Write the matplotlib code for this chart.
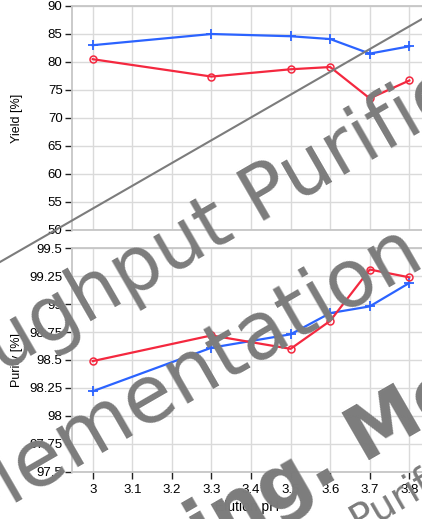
import numpy as np
import matplotlib
matplotlib.use("Agg")
import matplotlib.pyplot as plt
from matplotlib.font_manager import FontProperties
from matplotlib.lines import Line2D

# ---------------- data ----------------
ph = [3.0, 3.3, 3.5, 3.6, 3.7, 3.8]
yield_blue = [83.0, 85.0, 84.6, 84.1, 81.5, 82.8]
yield_red = [80.5, 77.4, 78.7, 79.1, 73.5, 76.7]
purity_blue = [98.22, 98.61, 98.73, 98.92, 98.98, 99.19]
purity_red = [98.49, 98.72, 98.60, 98.85, 99.31, 99.24]

x_ticks = [3.0, 3.1, 3.2, 3.3, 3.4, 3.5, 3.6, 3.7, 3.8]
x_tick_labels = ["3", "3.1", "3.2", "3.3", "3.4", "3.5", "3.6", "3.7", "3.8"]
yield_ticks = [50, 55, 60, 65, 70, 75, 80, 85, 90]
yield_tick_labels = ["50", "55", "60", "65", "70", "75", "80", "85", "90"]
purity_ticks = [97.5, 97.75, 98.0, 98.25, 98.5, 98.75, 99.0, 99.25, 99.5]
purity_tick_labels = ["97.5", "97.75", "98", "98.25", "98.5", "98.75", "99", "99.25", "99.5"]

watermark_lines = ["High-throughput Purification", "Implementation",
                   "Processing. Modeling", "Purification"]

# ---------------- style ----------------
W, H = 422, 519
BLUE = "#2b63ff"
RED = "#f4283f"
GRID = "#dadada"
SPINE = "#c6c6c6"
WM = "#7c7c7c"
plt.rcParams["font.family"] = ["Liberation Sans", "DejaVu Sans"]

fig = plt.figure(figsize=(W / 100, H / 100), dpi=100)

def px_axes(left, top, right, bottom):
    return [left / W, 1 - bottom / H, (right - left) / W, (bottom - top) / H]

ax1 = fig.add_axes(px_axes(72.3, 6, 422, 230))
ax2 = fig.add_axes(px_axes(72.3, 248.3, 422, 471.7))

xlim = (2.9485, 3.832)

def style(ax, ticks, labels, ylim, show_x):
    ax.set_xlim(*xlim)
    ax.set_ylim(*ylim)
    ax.set_xticks(x_ticks)
    ax.set_yticks(ticks)
    ax.set_yticklabels(labels, fontsize=9.5)
    ax.grid(True, color=GRID, lw=1.0)
    ax.set_axisbelow(True)
    for s in ["top", "bottom", "left"]:
        ax.spines[s].set_color(SPINE)
        ax.spines[s].set_linewidth(1.3)
    ax.spines["right"].set_visible(False)
    ax.tick_params(axis="y", direction="out", length=5, width=1, color="#222222", pad=2)
    if show_x:
        ax.set_xticklabels(x_tick_labels, fontsize=9.5)
        ax.tick_params(axis="x", direction="out", length=5, width=1, color="#222222", pad=4)
    else:
        ax.tick_params(axis="x", length=0, labelbottom=False)

style(ax1, yield_ticks, yield_tick_labels, (50, 90), False)
style(ax2, purity_ticks, purity_tick_labels, (97.5, 99.5), True)

for ax, yb, yr in [(ax1, yield_blue, yield_red), (ax2, purity_blue, purity_red)]:
    ax.plot(ph, yb, color=BLUE, lw=1.6, marker="+", ms=7, mew=1.3, zorder=3, clip_on=False)
    ax.plot(ph, yr, color=RED, lw=1.6, marker="o", ms=5, mfc="none", mew=1.1, zorder=3, clip_on=False)

ax1.set_ylabel("Yield [%]", fontsize=9)
ax2.set_ylabel("Purity [%]", fontsize=9)
ax1.yaxis.set_label_coords(-0.14, 0.5)
ax2.yaxis.set_label_coords(-0.14, 0.5)
ax2.set_xlabel("Elution pH", fontsize=10, labelpad=3)

# ---------------- watermark ----------------
fig.add_artist(Line2D([0, 1], [1 - 262 / H, 1 - 19 / H], color=WM, lw=1.5, zorder=9))

renderer = fig.canvas.get_renderer()
ANG = 30.0

def watermark(text, anchor_idx, target, size, weight):
    fp = FontProperties(family="DejaVu Sans", size=size, weight=weight)
    pre = text[:anchor_idx]
    c = text[anchor_idx]
    w1 = renderer.get_text_width_height_descent(pre + c, fp, ismath=False)[0]
    w2 = renderer.get_text_width_height_descent(c, fp, ismath=False)[0]
    d = w1 - w2 if pre else 0.0
    a = np.deg2rad(ANG)
    x = target[0] - d * np.cos(a)
    y = target[1] + d * np.sin(a)
    fig.text(x / W, 1 - y / H, text, rotation=ANG, rotation_mode="anchor",
             ha="left", va="baseline", fontproperties=fp, color=WM, zorder=10)

watermark(watermark_lines[0], 16, (258.4, 225.2), 55, "normal")
watermark(watermark_lines[1], 3, (9.0, 502.0), 57.5, "normal")
watermark(watermark_lines[2], 10, (317.4, 489.6), 53, "bold")
watermark(watermark_lines[3], 0, (358.0, 533.0), 28, "normal")

fig.savefig("out.png", dpi=100)
